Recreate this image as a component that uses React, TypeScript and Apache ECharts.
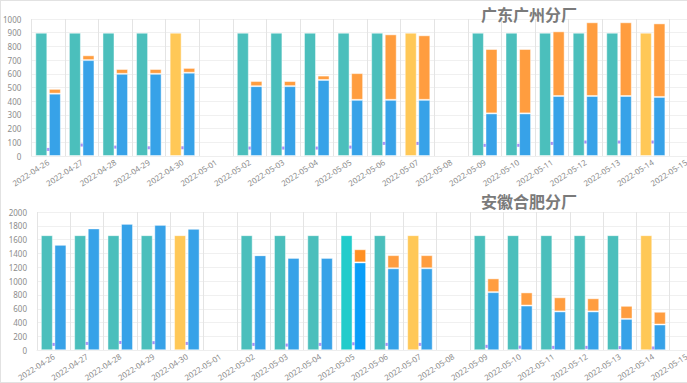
import React, { useEffect, useRef } from "react";
import * as echarts from "echarts";

const dates = [
  "2022-04-26", "2022-04-27", "2022-04-28", "2022-04-29", "2022-04-30", "2022-05-01", "2022-05-02",
  "2022-05-03", "2022-05-04", "2022-05-05", "2022-05-06", "2022-05-07", "2022-05-08", "2022-05-09",
  "2022-05-10", "2022-05-11", "2022-05-12", "2022-05-13", "2022-05-14", "2022-05-15",
];
const titles = ["广东广州分厂", "安徽合肥分厂"];
const saturdayIdx = [4, 11, 18];
const highlightIdx2 = 9;

// 广东广州分厂
const plan1 = [900, 900, 900, 900, 900, null, 900, 900, 900, 900, 900, 900, null, 900, 900, 900, 900, 900, 900, null];
const done1 = [455, 700, 600, 600, 608, null, 510, 510, 555, 410, 410, 410, null, 311, 311, 438, 438, 438, 431, null];
const rest1 = [35, 35, 35, 35, 35, null, 37, 37, 32, 195, 478, 471, null, 470, 470, 472, 538, 538, 537, null];
const small1 = [48, 80, 65, 60, 60, null, 58, 58, 58, 65, 92, 92, null, 78, 78, 92, 102, 102, 102, null];

// 安徽合肥分厂
const plan2 = [1665, 1665, 1665, 1665, 1665, null, 1665, 1665, 1665, 1665, 1665, 1665, null, 1665, 1665, 1665, 1665, 1665, 1665, null];
const done2 = [1527, 1763, 1830, 1815, 1759, null, 1375, 1337, 1337, 1271, 1186, 1186, null, 841, 647, 562, 562, 454, 373, null];
const rest2 = [0, 0, 0, 0, 0, null, 0, 0, 0, 190, 190, 190, null, 199, 190, 204, 190, 189, 184, null];
const small2 = [85, 99, 113, 110, 99, null, 85, 75, 85, 94, 85, 85, null, 57, 45, 42, 42, 39, 33, null];

const TEAL = "#4bbfbc";
const YELLOW = "#ffc857";
const BLUE = "#37a2e8";
const ORANGE = "#ff9d3f";
const PURPLE = "#8e6ff2";

export default function App() {
  const ref = useRef<HTMLDivElement>(null);
  useEffect(() => {
    document.body.style.margin = "0";
    const chart = echarts.init(ref.current!, undefined, { renderer: "svg" });
    const font = "'Noto Sans', 'Noto Sans CJK SC', sans-serif";
    const mkX = (gi: number) => ({
      type: "category",
      gridIndex: gi,
      data: dates,
      boundaryGap: true,
      axisTick: { show: false },
      axisLine: { show: true, lineStyle: { color: "#eeeeee" } },
      axisLabel: { rotate: 33, fontSize: 8, color: "#8c8c8c", interval: 0, margin: 5, fontFamily: font },
      splitLine: { show: true, interval: 0, lineStyle: { color: "#e4e4e4" } },
    });
    const mkY = (gi: number, max: number, interval: number) => ({
      type: "value",
      gridIndex: gi,
      min: 0,
      max,
      interval,
      axisLine: { show: false },
      axisTick: { show: false },
      axisLabel: {
        fontSize: 8,
        color: "#8c8c8c",
        margin: 10,
        fontFamily: font,
        formatter: (v: number) => String(v),
      },
      splitLine: { lineStyle: { color: "#f0f0f0" } },
    });
    const border = { borderWidth: 1, borderColor: "rgba(255,255,255,0.45)" };
    const mkSeries = (
      gi: number,
      plan: (number | null)[],
      done: (number | null)[],
      rest: (number | null)[],
      small: (number | null)[],
      hi: number
    ) => [
      {
        type: "scatter",
        xAxisIndex: gi,
        yAxisIndex: gi,
        symbol: "rect",
        symbolSize: [9, 3],
        itemStyle: { color: PURPLE },
        data: small,
        z: 1,
      },
      {
        type: "bar",
        xAxisIndex: gi,
        yAxisIndex: gi,
        barWidth: 12,
        barGap: "13%",
        z: 3,
        data: plan.map((v, i) => ({
          value: v,
          itemStyle: {
            ...border,
            color: saturdayIdx.includes(i) ? YELLOW : i === hi ? "#22cccb" : TEAL,
          },
        })),
      },
      {
        type: "bar",
        xAxisIndex: gi,
        yAxisIndex: gi,
        stack: "s" + gi,
        barWidth: 12,
        z: 3,
        data: done.map((v, i) => ({
          value: v,
          itemStyle: { ...border, color: i === hi ? "#0a9ef8" : BLUE },
        })),
      },
      {
        type: "bar",
        xAxisIndex: gi,
        yAxisIndex: gi,
        stack: "s" + gi,
        barWidth: 12,
        z: 3,
        data: rest.map((v, i) => ({
          value: v,
          itemStyle: { ...border, color: i === hi ? "#ff8f22" : ORANGE },
        })),
      },
    ];
    chart.setOption({
      animation: false,
      title: titles.map((t, i) => ({
        text: t,
        left: 476,
        top: i === 0 ? 1 : 188,
        textStyle: { fontSize: 16, fontWeight: "bold", color: "#7a7a7a", fontFamily: "'Noto Sans CJK SC', sans-serif" },
      })),
      grid: [
        { left: 31, right: 17, top: 19, height: 137 },
        { left: 37, right: 17, top: 212, height: 141 },
      ],
      xAxis: [mkX(0), mkX(1)],
      yAxis: [mkY(0, 1000, 100), mkY(1, 2000, 200)],
      series: [
        ...mkSeries(0, plan1, done1, rest1, small1, -1),
        ...mkSeries(1, plan2, done2, rest2, small2, highlightIdx2),
      ],
    });
    return () => chart.dispose();
  }, []);
  return (
    <div style={{ position: "relative", width: 687, height: 383, overflow: "hidden", background: "#fff" }}>
      <div ref={ref} style={{ position: "absolute", left: 0, top: 0, width: 720, height: 383 }} />
      <div
        style={{
          position: "absolute",
          left: 0,
          top: 0,
          width: 687,
          height: 383,
          boxSizing: "border-box",
          borderTop: "1px solid #e2e2e2",
          borderLeft: "1px solid #e2e2e2",
          borderBottom: "1px solid #e2e2e2",
          pointerEvents: "none",
        }}
      />
    </div>
  );
}
